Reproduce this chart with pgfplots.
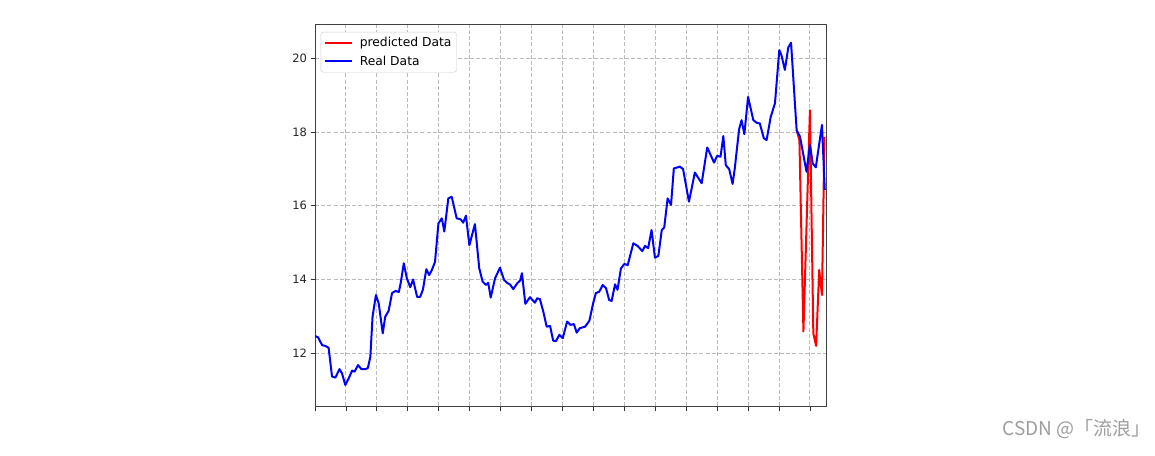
\documentclass[border=0pt]{standalone}
\usepackage{fontspec}
\setmainfont{DejaVu Sans}
\newfontfamily\cjk{Noto Sans CJK SC}
\usepackage{pgfplots}
\pgfplotsset{compat=1.18}
\begin{document}
\begin{tikzpicture}
\fill[white] (0pt,0pt) rectangle (1155pt,455pt);
\begin{axis}[
  at={(315pt,49pt)}, anchor=south west,
  scale only axis, width=511pt, height=381pt,
  xmin=0, xmax=165.2, ymin=10.57, ymax=20.9,
  xtick={0,10,...,160}, xticklabels={},
  ytick={12,14,16,18,20},
  tick align=outside, tick pos=left,
  major tick length=4.5pt,
  tick style={black!80, line width=0.8pt},
  grid=major,
  grid style={black!27, line width=0.9pt, dash pattern=on 4pt off 2.2pt},
  axis line style={black!75, line width=1pt},
  ticklabel style={font=\fontsize{11.5}{13}\selectfont, text=black!85},
  /pgf/number format/assume math mode=true,
  legend style={at={(0.011,0.982)}, anchor=north west, draw=black!20, rounded corners=2.5pt, fill=white,
    font=\fontsize{12.3}{14}\selectfont, inner xsep=3pt, inner ysep=3.5pt, row sep=3.5pt, column sep=5pt,
    cells={anchor=west}},
  legend image code/.code={\draw (0pt,0pt) -- (27pt,0pt);},
  line join=round,
]
\addplot[red, line width=2pt] coordinates {
(155.7,18.05) (156.6,17.78) (157.9,12.59) (160.0,18.59) (161.1,12.54) (162.0,12.2) (163.0,14.26) (163.9,13.58) (164.7,17.87)
};
\addlegendentry{predicted Data}
\addplot[blue, line width=2pt] coordinates {
(0,12.47) (1.0,12.43) (2.3,12.22) (3.3,12.2) (4.4,12.15) (5.5,11.37) (6.6,11.34) (7.9,11.57) (8.7,11.46) (9.8,11.14)
(10.9,11.32) (12.0,11.53) (12.8,11.5) (13.9,11.68) (15.0,11.57) (16.3,11.57) (17.1,11.6) (17.9,11.91) (18.6,12.99) (19.7,13.58)
(20.6,13.35) (21.9,12.54) (22.7,12.99) (23.8,13.15) (24.9,13.63) (26.0,13.69) (27.1,13.66) (27.7,13.9) (28.7,14.44) (29.7,14.03)
(30.8,13.79) (31.7,14.0) (33.0,13.53) (34.0,13.53) (34.9,13.73) (36.0,14.28) (36.9,14.12) (37.8,14.26) (38.8,14.48) (39.9,15.52)
(41.0,15.66) (41.8,15.3) (43.1,16.2) (44.2,16.24) (45.8,15.66) (47.1,15.63) (47.9,15.54) (48.8,15.73) (49.9,14.93) (51.7,15.5)
(53.1,14.3) (54.2,13.94) (55.3,13.85) (56.0,13.91) (56.8,13.51) (58.2,14.03) (59.8,14.32) (61.1,13.99) (62.2,13.9) (63.0,13.87)
(64.1,13.74) (65.4,13.9) (66.3,13.97) (66.9,14.17) (68.0,13.34) (69.5,13.52) (71.1,13.37) (71.8,13.49) (72.7,13.47) (73.8,13.13)
(74.9,12.72) (76.0,12.74) (77.0,12.34) (77.9,12.33) (79.0,12.5) (80.1,12.41) (81.5,12.86) (82.6,12.77) (83.7,12.79) (84.6,12.56)
(85.6,12.68) (87.3,12.72) (88.7,12.88) (89.9,13.35) (90.8,13.63) (91.9,13.67) (93.0,13.85) (94.1,13.76) (95.1,13.44) (95.9,13.42)
(97.0,13.87) (97.8,13.72) (98.9,14.3) (100.0,14.42) (101.1,14.39) (102.9,14.98) (104.3,14.91) (105.8,14.77) (106.7,14.91) (107.7,14.85)
(108.8,15.34) (109.9,14.59) (111.0,14.64) (112.1,15.34) (112.9,15.41) (114.0,16.2) (115.1,16.02) (116.0,17.01) (118.0,17.06) (119.0,16.99)
(120.9,16.11) (122.8,16.9) (125.0,16.61) (126.8,17.58) (129.0,17.17) (130.0,17.35) (131.1,17.33) (132.0,17.89) (132.8,17.1) (133.9,16.99)
(135.0,16.59) (135.7,17.01) (137.1,18.07) (137.9,18.32) (138.8,17.94) (140.0,18.95) (141.7,18.32) (142.8,18.25) (143.8,18.23) (145.1,17.83)
(146.0,17.78) (147.3,18.4) (148.7,18.78) (150.1,20.22) (150.8,20.08) (151.9,19.68) (153.0,20.29) (153.9,20.42) (155.7,18.05) (156.8,17.87)
(158.9,16.92) (160.0,17.65) (160.9,17.15) (161.9,17.04) (163.9,18.19) (164.8,16.43)
};
\addlegendentry{Real Data}
\end{axis}
\node[anchor=east, text=black!38, font=\cjk\fontsize{19}{21}\selectfont, inner sep=0pt] at (1151pt,26pt) {CSDN @「流浪」};
\pgfresetboundingbox
\path[use as bounding box] (0pt,0pt) rectangle (1155pt,455pt);
\end{tikzpicture}
\end{document}
